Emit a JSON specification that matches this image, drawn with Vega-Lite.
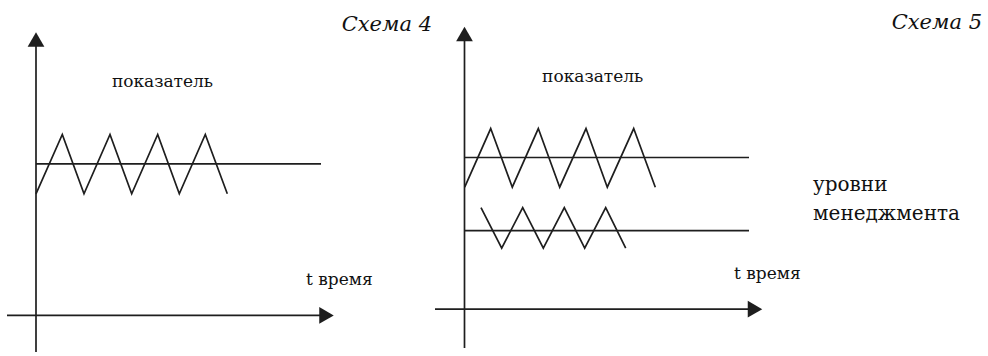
{
  "$schema": "https://vega.github.io/schema/vega-lite/v6.json",
  "width": 988,
  "height": 356,
  "autosize": {"type": "fit", "contains": "padding"},
  "padding": 0,
  "background": "white",
  "config": {"view": {"stroke": null}},
  "datasets": {
    "lines": [
      {"id": "L_yaxis", "t": 36, "v": 0, "k": 0},
      {"id": "L_yaxis", "t": 36, "v": 310, "k": 1},
      {"id": "L_xaxis", "t": 7, "v": 37, "k": 0},
      {"id": "L_xaxis", "t": 322, "v": 37, "k": 1},
      {"id": "L_level", "t": 36, "v": 190.3, "k": 0},
      {"id": "L_level", "t": 321, "v": 190.3, "k": 1},
      {"id": "L_zig", "t": 36, "v": 160, "k": 0},
      {"id": "L_zig", "t": 62.3, "v": 220, "k": 1},
      {"id": "L_zig", "t": 84, "v": 160, "k": 2},
      {"id": "L_zig", "t": 110, "v": 220, "k": 3},
      {"id": "L_zig", "t": 131.7, "v": 160, "k": 4},
      {"id": "L_zig", "t": 157.7, "v": 220, "k": 5},
      {"id": "L_zig", "t": 179.3, "v": 160, "k": 6},
      {"id": "L_zig", "t": 205.3, "v": 220, "k": 7},
      {"id": "L_zig", "t": 227.3, "v": 160, "k": 8},
      {"id": "R_yaxis", "t": 464.5, "v": 4, "k": 0},
      {"id": "R_yaxis", "t": 464.5, "v": 315, "k": 1},
      {"id": "R_xaxis", "t": 435, "v": 43.3, "k": 0},
      {"id": "R_xaxis", "t": 750, "v": 43.3, "k": 1},
      {"id": "R_level1", "t": 464.5, "v": 196.7, "k": 0},
      {"id": "R_level1", "t": 749, "v": 196.7, "k": 1},
      {"id": "R_level2", "t": 464.5, "v": 122.7, "k": 0},
      {"id": "R_level2", "t": 749, "v": 122.7, "k": 1},
      {"id": "R_zig1", "t": 464.7, "v": 166.7, "k": 0},
      {"id": "R_zig1", "t": 490.7, "v": 226, "k": 1},
      {"id": "R_zig1", "t": 512.3, "v": 166.7, "k": 2},
      {"id": "R_zig1", "t": 538.3, "v": 226, "k": 3},
      {"id": "R_zig1", "t": 559.7, "v": 166.7, "k": 4},
      {"id": "R_zig1", "t": 586, "v": 226, "k": 5},
      {"id": "R_zig1", "t": 607.3, "v": 166.7, "k": 6},
      {"id": "R_zig1", "t": 633.7, "v": 226, "k": 7},
      {"id": "R_zig1", "t": 655.3, "v": 166.7, "k": 8},
      {"id": "R_zig2", "t": 481, "v": 146, "k": 0},
      {"id": "R_zig2", "t": 501.7, "v": 105, "k": 1},
      {"id": "R_zig2", "t": 522.7, "v": 146, "k": 2},
      {"id": "R_zig2", "t": 543.3, "v": 105, "k": 3},
      {"id": "R_zig2", "t": 564.3, "v": 146, "k": 4},
      {"id": "R_zig2", "t": 584.7, "v": 105, "k": 5},
      {"id": "R_zig2", "t": 605.7, "v": 146, "k": 6},
      {"id": "R_zig2", "t": 625.7, "v": 105, "k": 7}
    ],
    "arrows": [
      {"dir": "up", "t": 36, "v": 316},
      {"dir": "right", "t": 326.5, "v": 37},
      {"dir": "up", "t": 464.5, "v": 321.5},
      {"dir": "right", "t": 755, "v": 43.3}
    ],
    "labels": [
      {"kind": "center", "text": "показатель", "t": 162.5, "v": 268},
      {"kind": "center", "text": "показатель", "t": 592.7, "v": 273},
      {"kind": "left", "text": "t время", "t": 306, "v": 68},
      {"kind": "left", "text": "t время", "t": 734, "v": 74},
      {"kind": "title", "text": "Схема 4", "t": 432, "v": 325},
      {"kind": "title", "text": "Схема 5", "t": 982, "v": 327},
      {"kind": "big", "text": "уровни", "t": 813, "v": 163},
      {"kind": "big", "text": "менеджмента", "t": 813, "v": 133}
    ]
  },
  "encoding": {
    "x": {"field": "t", "type": "quantitative", "scale": {"domain": [0, 988], "nice": false, "zero": false}, "axis": null},
    "y": {"field": "v", "type": "quantitative", "scale": {"domain": [0, 356], "nice": false, "zero": false}, "axis": null}
  },
  "layer": [
    {
      "data": {"name": "lines"},
      "mark": {"type": "line", "color": "#1e1e1e", "strokeWidth": 1.7, "strokeCap": "butt", "strokeJoin": "miter"},
      "encoding": {
        "detail": {"field": "id", "type": "nominal"},
        "order": {"field": "k", "type": "quantitative"}
      }
    },
    {
      "data": {"name": "arrows"},
      "mark": {"type": "point", "filled": true, "color": "#1e1e1e", "opacity": 1, "size": 280, "strokeWidth": 0},
      "encoding": {
        "shape": {"field": "dir", "type": "nominal", "scale": {"domain": ["up", "right"], "range": ["triangle-up", "triangle-right"]}, "legend": null}
      }
    },
    {
      "data": {"name": "labels"},
      "transform": [{"filter": "datum.kind === 'center'"}],
      "mark": {"type": "text", "font": "DejaVu Serif", "fontSize": 17, "align": "center", "baseline": "alphabetic", "color": "#111"},
      "encoding": {"text": {"field": "text"}}
    },
    {
      "data": {"name": "labels"},
      "transform": [{"filter": "datum.kind === 'left'"}],
      "mark": {"type": "text", "font": "DejaVu Serif", "fontSize": 17, "align": "left", "baseline": "alphabetic", "color": "#111"},
      "encoding": {"text": {"field": "text"}}
    },
    {
      "data": {"name": "labels"},
      "transform": [{"filter": "datum.kind === 'big'"}],
      "mark": {"type": "text", "font": "DejaVu Serif", "fontSize": 20, "align": "left", "baseline": "alphabetic", "color": "#111"},
      "encoding": {"text": {"field": "text"}}
    },
    {
      "data": {"name": "labels"},
      "transform": [{"filter": "datum.kind === 'title'"}],
      "mark": {"type": "text", "font": "DejaVu Serif", "fontSize": 21, "fontStyle": "italic", "align": "right", "baseline": "alphabetic", "color": "#111"},
      "encoding": {"text": {"field": "text"}}
    }
  ]
}
